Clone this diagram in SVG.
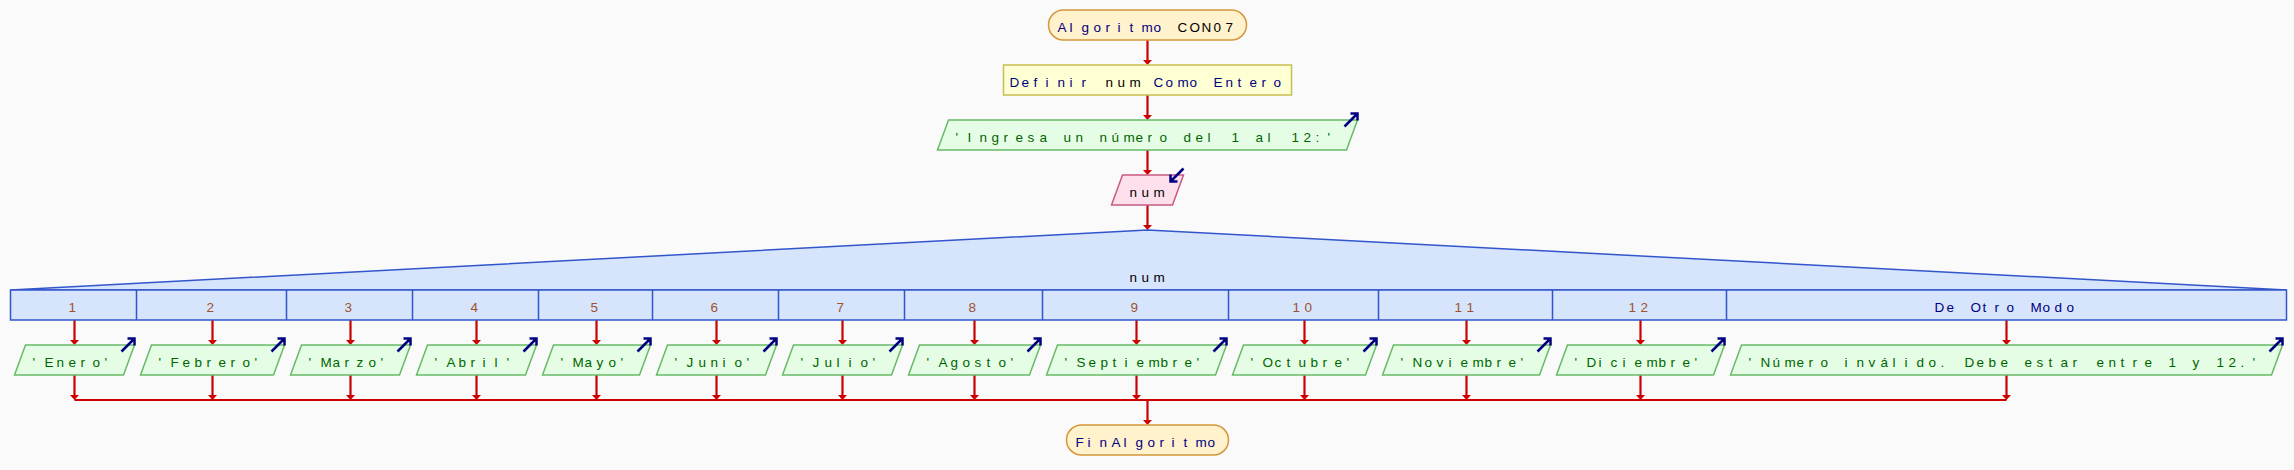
<svg xmlns="http://www.w3.org/2000/svg" xmlns:xlink="http://www.w3.org/1999/xlink" width="2294" height="470" viewBox="0 0 2294 470">
<style>
.t{font-family:"Liberation Sans",Arial,sans-serif;font-size:13.5px}
.kw{fill:#000080}.var{fill:#000}.str{fill:#006400}.num{fill:#a0522d}
.term{fill:#fff2cc;stroke:#d4973c;stroke-width:1.5}
.def{fill:#ffffd4;stroke:#c8be50;stroke-width:1.5}
.out{fill:#e4fde4;stroke:#66bb66;stroke-width:1.5}
.inp{fill:#fde0ec;stroke:#c85a82;stroke-width:1.5}
.sw{fill:#d6e4fc;stroke:#3355cc;stroke-width:1.5}
.icon{fill:none;stroke:#000080;stroke-width:2.5}
.conn path{fill:none;stroke:#cc0000;stroke-width:2.2}
.conn path.a{marker-end:url(#ah)}
</style>
<defs>
<marker id="ah" viewBox="0 -5 5 10" refX="3" refY="0" markerWidth="5" markerHeight="10" markerUnits="userSpaceOnUse" orient="auto"><path d="M0,-4.5 L5,0 L0,4.5 Z" fill="#cc0000"/></marker>
<path id="oi" class="icon" d="M-13,6.5 L0,-6.5 M-7,-6.5 L0,-6.5 L0,0.5"/>
<path id="ii" class="icon" d="M0,-6.5 L-13,6.5 M-13,-0.5 L-13,6.5 L-6,6.5"/>
</defs>
<rect width="2294" height="470" fill="#fafafa"/>

<g id="connectors" class="conn">
<path class="a" d="M1147.5,40 V63"/>
<path class="a" d="M1147.5,95 V118"/>
<path class="a" d="M1147.5,150 V173"/>
<path class="a" d="M1147.5,205 V228"/>
<path class="a" d="M74.5,320 V343"/><path class="a" d="M212.5,320 V343"/><path class="a" d="M350.5,320 V343"/><path class="a" d="M476.5,320 V343"/><path class="a" d="M596.5,320 V343"/><path class="a" d="M716.5,320 V343"/><path class="a" d="M842.5,320 V343"/><path class="a" d="M974.5,320 V343"/><path class="a" d="M1136.5,320 V343"/><path class="a" d="M1304.5,320 V343"/><path class="a" d="M1466.5,320 V343"/><path class="a" d="M1640.5,320 V343"/><path class="a" d="M2006.5,320 V343"/>
<path class="a" d="M74.5,375 V398"/><path class="a" d="M212.5,375 V398"/><path class="a" d="M350.5,375 V398"/><path class="a" d="M476.5,375 V398"/><path class="a" d="M596.5,375 V398"/><path class="a" d="M716.5,375 V398"/><path class="a" d="M842.5,375 V398"/><path class="a" d="M974.5,375 V398"/><path class="a" d="M1136.5,375 V398"/><path class="a" d="M1304.5,375 V398"/><path class="a" d="M1466.5,375 V398"/><path class="a" d="M1640.5,375 V398"/><path class="a" d="M2006.5,375 V398"/>
<path d="M74.5,400 H2006.5"/>
<path class="a" d="M1147.5,400 V423"/>
</g>

<g id="start">
<rect class="term" x="1048.5" y="10" width="198" height="30" rx="15"/>
<text class="t" y="32"><tspan class="kw" x="1057.5 1069.5 1081.5 1093.5 1105.5 1117.5 1129.5 1141.5 1153.5">Algoritmo</tspan><tspan class="var" x="1177.5 1189.5 1201.5 1213.5 1225.5">CON07</tspan></text>
</g>

<g id="definir">
<rect class="def" x="1003.5" y="65" width="288" height="30"/>
<text class="t" y="87"><tspan class="kw" x="1009.5 1021.5 1033.5 1045.5 1057.5 1069.5 1081.5">Definir</tspan><tspan class="var" x="1105.5 1117.5 1129.5">num</tspan><tspan class="kw" x="1153.5 1165.5 1177.5 1189.5 1201.5 1213.5 1225.5 1237.5 1249.5 1261.5 1273.5">Como Entero</tspan></text>
</g>

<g id="escribir0">
<polygon class="out" points="948.5,120 1357.5,120 1346.5,150 937.5,150"/>
<text class="t str" y="142" x="955.5 967.5 979.5 991.5 1003.5 1015.5 1027.5 1039.5 1051.5 1063.5 1075.5 1087.5 1099.5 1111.5 1123.5 1135.5 1147.5 1159.5 1171.5 1183.5 1195.5 1207.5 1219.5 1231.5 1243.5 1255.5 1267.5 1279.5 1291.5 1303.5 1315.5 1327.5">'Ingresa un número del 1 al 12:'</text>
<use xlink:href="#oi" href="#oi" x="1357.5" y="120"/>
</g>

<g id="leer">
<polygon class="inp" points="1122.5,175 1183.5,175 1172.5,205 1111.5,205"/>
<text class="t var" y="197" x="1129.5 1141.5 1153.5">num</text>
<use xlink:href="#ii" href="#ii" x="1183.5" y="175"/>
</g>

<g id="segun">
<polygon class="sw" points="1147.5,230 10.5,290 2286.5,290"/>
<rect class="sw" x="10.5" y="290" width="2276" height="30"/>
<path fill="none" stroke="#3355cc" stroke-width="1.5" d="M136.5,290V320M286.5,290V320M412.5,290V320M538.5,290V320M652.5,290V320M778.5,290V320M904.5,290V320M1042.5,290V320M1228.5,290V320M1378.5,290V320M1552.5,290V320M1726.5,290V320"/>
<text class="t var" y="282" x="1129.5 1141.5 1153.5">num</text>
<text class="t num" y="312" x="68.5">1</text>
<text class="t num" y="312" x="206.5">2</text>
<text class="t num" y="312" x="344.5">3</text>
<text class="t num" y="312" x="470.5">4</text>
<text class="t num" y="312" x="590.5">5</text>
<text class="t num" y="312" x="710.5">6</text>
<text class="t num" y="312" x="836.5">7</text>
<text class="t num" y="312" x="968.5">8</text>
<text class="t num" y="312" x="1130.5">9</text>
<text class="t num" y="312" x="1292.5 1304.5">10</text>
<text class="t num" y="312" x="1454.5 1466.5">11</text>
<text class="t num" y="312" x="1628.5 1640.5">12</text>
<text class="t kw" y="312" x="1934.5 1946.5 1958.5 1970.5 1982.5 1994.5 2006.5 2018.5 2030.5 2042.5 2054.5 2066.5">De Otro Modo</text>
</g>

<g id="caso1">
<polygon class="out" points="25.5,345 134.5,345 123.5,375 14.5,375"/>
<text class="t str" y="367" x="32.5 44.5 56.5 68.5 80.5 92.5 104.5">'Enero'</text>
<use xlink:href="#oi" href="#oi" x="134.5" y="345"/>
</g>
<g id="caso2">
<polygon class="out" points="151.5,345 284.5,345 273.5,375 140.5,375"/>
<text class="t str" y="367" x="158.5 170.5 182.5 194.5 206.5 218.5 230.5 242.5 254.5">'Febrero'</text>
<use xlink:href="#oi" href="#oi" x="284.5" y="345"/>
</g>
<g id="caso3">
<polygon class="out" points="301.5,345 410.5,345 399.5,375 290.5,375"/>
<text class="t str" y="367" x="308.5 320.5 332.5 344.5 356.5 368.5 380.5">'Marzo'</text>
<use xlink:href="#oi" href="#oi" x="410.5" y="345"/>
</g>
<g id="caso4">
<polygon class="out" points="427.5,345 536.5,345 525.5,375 416.5,375"/>
<text class="t str" y="367" x="434.5 446.5 458.5 470.5 482.5 494.5 506.5">'Abril'</text>
<use xlink:href="#oi" href="#oi" x="536.5" y="345"/>
</g>
<g id="caso5">
<polygon class="out" points="553.5,345 650.5,345 639.5,375 542.5,375"/>
<text class="t str" y="367" x="560.5 572.5 584.5 596.5 608.5 620.5">'Mayo'</text>
<use xlink:href="#oi" href="#oi" x="650.5" y="345"/>
</g>
<g id="caso6">
<polygon class="out" points="667.5,345 776.5,345 765.5,375 656.5,375"/>
<text class="t str" y="367" x="674.5 686.5 698.5 710.5 722.5 734.5 746.5">'Junio'</text>
<use xlink:href="#oi" href="#oi" x="776.5" y="345"/>
</g>
<g id="caso7">
<polygon class="out" points="793.5,345 902.5,345 891.5,375 782.5,375"/>
<text class="t str" y="367" x="800.5 812.5 824.5 836.5 848.5 860.5 872.5">'Julio'</text>
<use xlink:href="#oi" href="#oi" x="902.5" y="345"/>
</g>
<g id="caso8">
<polygon class="out" points="919.5,345 1040.5,345 1029.5,375 908.5,375"/>
<text class="t str" y="367" x="926.5 938.5 950.5 962.5 974.5 986.5 998.5 1010.5">'Agosto'</text>
<use xlink:href="#oi" href="#oi" x="1040.5" y="345"/>
</g>
<g id="caso9">
<polygon class="out" points="1057.5,345 1226.5,345 1215.5,375 1046.5,375"/>
<text class="t str" y="367" x="1064.5 1076.5 1088.5 1100.5 1112.5 1124.5 1136.5 1148.5 1160.5 1172.5 1184.5 1196.5">'Septiembre'</text>
<use xlink:href="#oi" href="#oi" x="1226.5" y="345"/>
</g>
<g id="caso10">
<polygon class="out" points="1243.5,345 1376.5,345 1365.5,375 1232.5,375"/>
<text class="t str" y="367" x="1250.5 1262.5 1274.5 1286.5 1298.5 1310.5 1322.5 1334.5 1346.5">'Octubre'</text>
<use xlink:href="#oi" href="#oi" x="1376.5" y="345"/>
</g>
<g id="caso11">
<polygon class="out" points="1393.5,345 1550.5,345 1539.5,375 1382.5,375"/>
<text class="t str" y="367" x="1400.5 1412.5 1424.5 1436.5 1448.5 1460.5 1472.5 1484.5 1496.5 1508.5 1520.5">'Noviembre'</text>
<use xlink:href="#oi" href="#oi" x="1550.5" y="345"/>
</g>
<g id="caso12">
<polygon class="out" points="1567.5,345 1724.5,345 1713.5,375 1556.5,375"/>
<text class="t str" y="367" x="1574.5 1586.5 1598.5 1610.5 1622.5 1634.5 1646.5 1658.5 1670.5 1682.5 1694.5">'Diciembre'</text>
<use xlink:href="#oi" href="#oi" x="1724.5" y="345"/>
</g>
<g id="deotromodo">
<polygon class="out" points="1741.5,345 2282.5,345 2271.5,375 1730.5,375"/>
<text class="t str" y="367" x="1748.5 1760.5 1772.5 1784.5 1796.5 1808.5 1820.5 1832.5 1844.5 1856.5 1868.5 1880.5 1892.5 1904.5 1916.5 1928.5 1940.5 1952.5 1964.5 1976.5 1988.5 2000.5 2012.5 2024.5 2036.5 2048.5 2060.5 2072.5 2084.5 2096.5 2108.5 2120.5 2132.5 2144.5 2156.5 2168.5 2180.5 2192.5 2204.5 2216.5 2228.5 2240.5 2252.5">'Número inválido. Debe estar entre 1 y 12.'</text>
<use xlink:href="#oi" href="#oi" x="2282.5" y="345"/>
</g>

<g id="fin">
<rect class="term" x="1066.5" y="425" width="162" height="30" rx="15"/>
<text class="t kw" y="447" x="1075.5 1087.5 1099.5 1111.5 1123.5 1135.5 1147.5 1159.5 1171.5 1183.5 1195.5 1207.5">FinAlgoritmo</text>
</g>
</svg>
